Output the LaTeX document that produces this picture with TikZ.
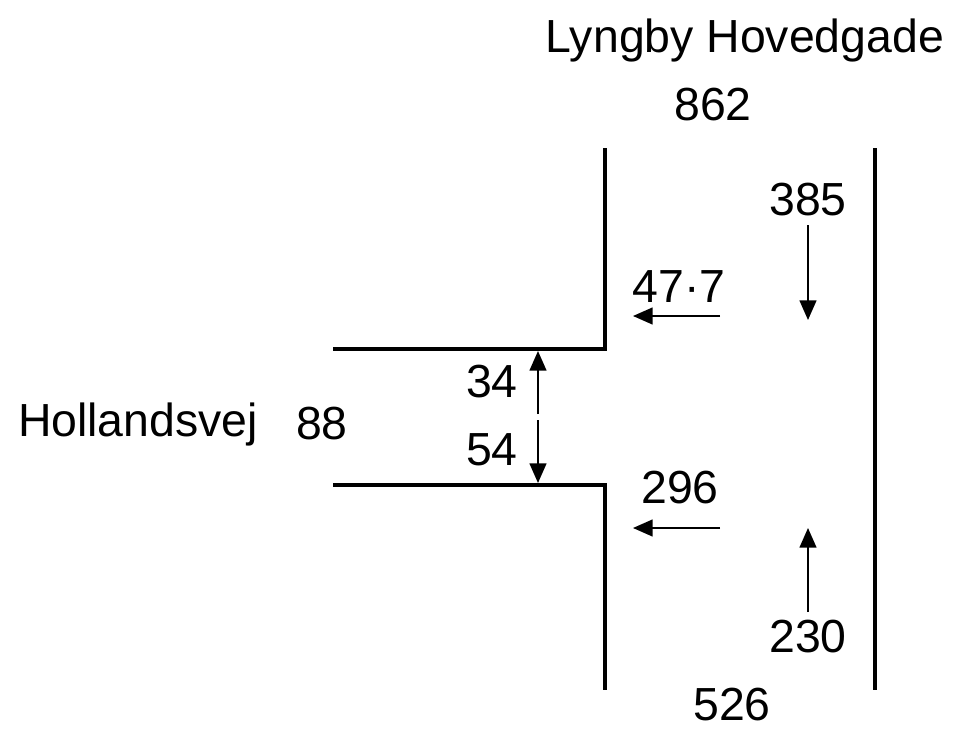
\documentclass[tikz,border=0pt]{standalone}
\usepackage{fontspec}
\setmainfont{Liberation Sans}
\usetikzlibrary{arrows.meta,positioning}
\tikzset{
    road/.style={line width=2.3pt},
    flow/.style={line width=1.3pt, -{Triangle[length=14pt, width=12pt]}},
    lbl/.style={font=\fontsize{33}{38}\selectfont, inner sep=0pt}
}

\begin{document}
\begin{tikzpicture}[x=0.025cm, y=-0.025cm]
    \useasboundingbox (0,0) rectangle (969,731);

    % Road edges
    \draw[road] (605,148) -- (605,349) -- (333,349);
    \draw[road] (333,485) -- (605,485) -- (605,690);
    \draw[road] (875,148) -- (875,690);

    % Street names
    \node[lbl] (lyngby) at (745,40) {Lyngby Hovedgade};
    \node[lbl] (holland) at (138,424) {Hollandsvej};

    % Counts
    \node[lbl] (northin) at (713,105) {862};
    \node[lbl] (southin) at (732,705) {526};
    \node[lbl] (westin) at (322,424) {88};
    \node[lbl] (sbthru) at (808,200) {385};
    \node[lbl] (nbthru) at (808,637) {230};
    \node[lbl] (sbleft) at (679,287) {47·7};
    \node[lbl] (nbright) at (680,488) {296};
    \node[lbl] (wbout) at (492,382) {34};
    \node[lbl] (wbin) at (492,450) {54};

    % Flow arrows
    \coordinate (a1) at (808,225);  \coordinate (b1) at (808,320);
    \coordinate (a2) at (808,612);  \coordinate (b2) at (808,528);
    \coordinate (a3) at (720,316);  \coordinate (b3) at (633,316);
    \coordinate (a4) at (720,528);  \coordinate (b4) at (633,528);
    \coordinate (a5) at (538,414);  \coordinate (b5) at (538,351);
    \coordinate (a6) at (538,420);  \coordinate (b6) at (538,483);
    \foreach \s/\t in {a1/b1, a2/b2, a3/b3, a4/b4, a5/b5, a6/b6}
        \draw[flow] (\s) -- (\t);
\end{tikzpicture}
\end{document}
